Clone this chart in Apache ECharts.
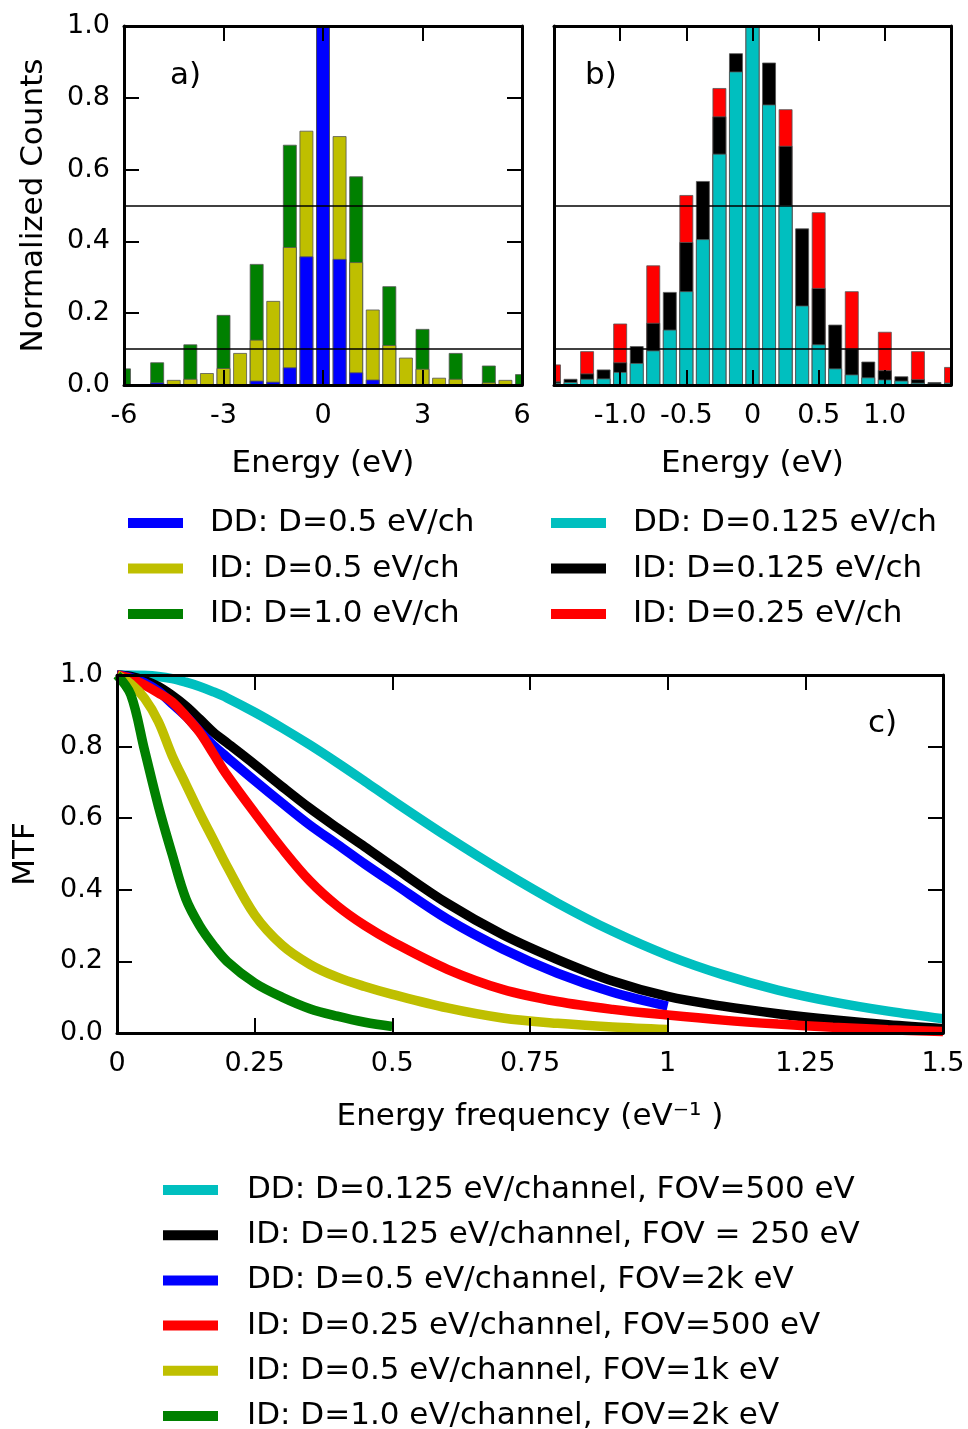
<!DOCTYPE html>
<html>
<head>
<meta charset="utf-8">
<title>Energy histograms and MTF</title>
<script src="https://cdn.jsdelivr.net/npm/echarts@6/dist/echarts.min.js"></script>
</head>
<body style="margin:0;background:#fff">
<div id="main" style="width:968px;height:1429px;"></div>
<script type="text/javascript">
    // panel a) bins, 0.5 eV and 1.0 eV
    var energyA = [-6, -5.5, -5, -4.5, -4, -3.5, -3, -2.5, -2, -1.5, -1, -0.5, 0, 0.5, 1, 1.5, 2, 2.5, 3, 3.5, 4, 4.5, 5, 5.5, 6];
    var energyA1 = [-6, -5, -4, -3, -2, -1, 0, 1, 2, 3, 4, 5, 6];
    var ddA05 = [0, 0, 0.006, 0, 0, 0, 0, 0, 0.011, 0.008, 0.048, 0.357, 1.0, 0.35, 0.034, 0.014, 0, 0, 0, 0, 0, 0, 0, 0, 0];
    var idA05 = [0, 0, 0, 0.013, 0.016, 0.032, 0.046, 0.088, 0.125, 0.233, 0.383, 0.707, 1.0, 0.692, 0.341, 0.209, 0.110, 0.075, 0.044, 0.019, 0.016, 0, 0.006, 0.013, 0];
    var idA10 = [0.045, 0.062, 0.112, 0.194, 0.336, 0.668, 1.0, 0.58, 0.274, 0.155, 0.088, 0.053, 0.029];

    // panel b) bins, 0.125 eV and 0.25 eV
    var energyB = [-1.5, -1.375, -1.25, -1.125, -1, -0.875, -0.75, -0.625, -0.5, -0.375, -0.25, -0.125, 0, 0.125, 0.25, 0.375, 0.5, 0.625, 0.75, 0.875, 1, 1.125, 1.25, 1.375, 1.5];
    var energyB25 = [-1.5, -1.25, -1, -0.75, -0.5, -0.25, 0, 0.25, 0.5, 0.75, 1, 1.25, 1.5];
    var ddB0125 = [0.005, 0.007, 0.016, 0.017, 0.035, 0.06, 0.095, 0.153, 0.26, 0.405, 0.643, 0.872, 1.0, 0.78, 0.5, 0.22, 0.112, 0.045, 0.028, 0.02, 0.014, 0.011, 0.005, 0.003, 0.005];
    var idB0125 = [0.009, 0.016, 0.031, 0.042, 0.062, 0.107, 0.172, 0.258, 0.397, 0.567, 0.747, 0.923, 1.0, 0.897, 0.665, 0.435, 0.269, 0.167, 0.1, 0.064, 0.04, 0.023, 0.015, 0.007, 0.005];
    var idB025 = [0.056, 0.093, 0.17, 0.332, 0.528, 0.826, 1.0, 0.767, 0.48, 0.26, 0.147, 0.093, 0.049];

    // reference levels drawn across a) and b)
    var levels = [0.5, 0.1];

    // panel c) MTF curves, shorter curves stop earlier on the same frequency list
    var freqC = [0, 0.025, 0.05, 0.075, 0.1, 0.125, 0.15, 0.175, 0.2, 0.25, 0.3, 0.35, 0.4, 0.45, 0.5, 0.6, 0.7, 0.8, 0.9, 1.0, 1.1, 1.2, 1.3, 1.4, 1.5];
    var mtfDD0125 = [1, 1, 0.999, 0.996, 0.99, 0.98, 0.968, 0.953, 0.936, 0.896, 0.852, 0.805, 0.755, 0.703, 0.65, 0.548, 0.452, 0.363, 0.284, 0.217, 0.163, 0.12, 0.087, 0.061, 0.04];
    var mtfID0125 = [1, 0.996, 0.985, 0.968, 0.943, 0.913, 0.877, 0.84, 0.81, 0.75, 0.688, 0.628, 0.573, 0.52, 0.466, 0.362, 0.275, 0.205, 0.145, 0.102, 0.075, 0.054, 0.037, 0.023, 0.012];
    var mtfDD05 = [1, 0.993, 0.978, 0.955, 0.92, 0.885, 0.843, 0.803, 0.77, 0.705, 0.642, 0.581, 0.527, 0.472, 0.42, 0.318, 0.235, 0.167, 0.114, 0.075];
    var mtfID025 = [1, 0.99, 0.972, 0.95, 0.925, 0.885, 0.84, 0.78, 0.72, 0.615, 0.515, 0.425, 0.355, 0.3, 0.255, 0.178, 0.122, 0.088, 0.066, 0.05, 0.036, 0.025, 0.016, 0.009, 0.004];
    var mtfID05 = [1, 0.975, 0.935, 0.87, 0.775, 0.695, 0.615, 0.54, 0.465, 0.33, 0.245, 0.192, 0.156, 0.13, 0.108, 0.07, 0.042, 0.027, 0.017, 0.01];
    var mtfID10 = [1, 0.945, 0.79, 0.635, 0.5, 0.375, 0.3, 0.245, 0.2, 0.14, 0.1, 0.068, 0.047, 0.03, 0.018];

    var FONT = 'DejaVu Sans';
    var BAR_W = 13;

    function pairs(xs, ys) {
        return ys.map(function (y, i) { return [xs[i], y]; });
    }

    function xAx(grid, pos, min, max, step, opts) {
        opts = opts || {};
        return {
            type: 'value', gridIndex: grid, position: pos, min: min, max: max, interval: step,
            z: 10,
            axisLine: {show: true, onZero: false, lineStyle: {color: '#000', width: 3}},
            axisTick: {show: true, inside: true, length: 15, lineStyle: {color: '#000', width: 2}},
            axisLabel: {show: !!opts.label, margin: 17, color: '#000', fontFamily: FONT, fontSize: 27,
                formatter: opts.fmt},
            splitLine: {show: false},
            name: opts.name, nameLocation: 'middle', nameGap: opts.gap,
            nameTextStyle: {color: '#000', fontFamily: FONT, fontSize: 31}
        };
    }

    function yAx(grid, pos, opts) {
        opts = opts || {};
        return {
            type: 'value', gridIndex: grid, position: pos, min: 0, max: 1, interval: 0.2,
            z: 10,
            axisLine: {show: true, onZero: false, lineStyle: {color: '#000', width: 3}},
            axisTick: {show: opts.ticks !== false, inside: true, length: 15, lineStyle: {color: '#000', width: 2}},
            axisLabel: {show: !!opts.label, margin: 14, color: '#000', fontFamily: FONT, fontSize: 27,
                formatter: function (v) { return v.toFixed(1); }},
            splitLine: {show: false},
            name: opts.name, nameLocation: 'middle', nameGap: opts.gap,
            nameTextStyle: {color: '#000', fontFamily: FONT, fontSize: 31}
        };
    }

    // histogram bar, clipped to the plot frame so the edge bins show as halves
    function renderBar(params, api) {
        var v = api.value(1);
        if (!(v > 0)) return null;
        var top = api.coord([api.value(0), v]);
        var base = api.coord([api.value(0), 0]);
        var cs = params.coordSys;
        var rect = echarts.graphic.clipRectByRect(
            {x: top[0] - BAR_W / 2, y: top[1], width: BAR_W, height: base[1] - top[1]},
            {x: cs.x, y: cs.y, width: cs.width, height: cs.height}
        );
        return rect && {type: 'rect', shape: rect, style: api.style()};
    }

    function bars(name, color, grid, data, lines) {
        var s = {
            name: name, type: 'custom', renderItem: renderBar,
            xAxisIndex: grid * 2, yAxisIndex: grid * 2,
            encode: {x: 0, y: 1},
            data: data, color: color,
            itemStyle: {color: color, borderColor: '#555', borderWidth: 0.8},
            emphasis: {disabled: true}
        };
        if (lines) {
            s.markLine = {
                silent: true, symbol: 'none', label: {show: false},
                lineStyle: {color: '#000', width: 1.5, type: 'solid'},
                emphasis: {disabled: true},
                data: levels.map(function (l) { return {yAxis: l}; })
            };
        }
        return s;
    }

    function curve(name, color, ys) {
        return {
            name: name, type: 'line', xAxisIndex: 4, yAxisIndex: 4,
            data: pairs(freqC, ys), color: color,
            showSymbol: false, smooth: 0.35,
            lineStyle: {color: color, width: 9.5},
            emphasis: {disabled: true}
        };
    }

    var legendText = {color: '#000', fontFamily: FONT, fontSize: 31, lineHeight: 36};

    function legend(left, top, gap, pad, names) {
        return {
            left: left, top: top, height: 300, orient: 'vertical', padding: 0, itemGap: gap, icon: 'rect',
            itemWidth: 55, itemHeight: 10, itemStyle: {borderWidth: 0},
            textStyle: Object.assign({padding: [0, 0, 0, pad]}, legendText),
            selectedMode: false, data: names
        };
    }

    var chart = echarts.init(document.getElementById('main'));

    var option = {
        animation: false,
        backgroundColor: '#fff',
        grid: [
            {left: 124, top: 26, width: 398, height: 359},
            {left: 554, top: 26, width: 397, height: 359},
            {left: 117, top: 675, width: 826, height: 358}
        ],
        xAxis: [
            xAx(0, 'bottom', -6, 6, 3, {label: true, name: 'Energy (eV)', gap: 63}),
            xAx(0, 'top', -6, 6, 3),
            xAx(1, 'bottom', -1.5, 1.5, 0.5, {label: true, name: 'Energy (eV)', gap: 63,
                fmt: function (v) { return Math.abs(v) > 1.2 ? '' : (v === 0 ? '0' : v.toFixed(1)); }}),
            xAx(1, 'top', -1.5, 1.5, 0.5),
            xAx(2, 'bottom', 0, 1.5, 0.25, {label: true, name: 'Energy frequency (eV\u207B\u00B9 )', gap: 68}),
            xAx(2, 'top', 0, 1.5, 0.25)
        ],
        yAxis: [
            yAx(0, 'left', {label: true, name: 'Normalized Counts', gap: 75}),
            yAx(0, 'right'),
            yAx(1, 'left', {ticks: false}),
            yAx(1, 'right', {ticks: false}),
            yAx(2, 'left', {label: true, name: 'MTF', gap: 76}),
            yAx(2, 'right')
        ],
        legend: [
            legend(128, 505, 9.5, 22, ['DD: D=0.5 eV/ch', 'ID: D=0.5 eV/ch', 'ID: D=1.0 eV/ch']),
            legend(551, 505, 9.5, 22, ['DD: D=0.125 eV/ch', 'ID: D=0.125 eV/ch', 'ID: D=0.25 eV/ch']),
            legend(163, 1172, 9.2, 24, ['DD: D=0.125 eV/channel, FOV=500 eV', 'ID: D=0.125 eV/channel, FOV = 250 eV',
                'DD: D=0.5 eV/channel, FOV=2k eV', 'ID: D=0.25 eV/channel, FOV=500 eV',
                'ID: D=0.5 eV/channel, FOV=1k eV', 'ID: D=1.0 eV/channel, FOV=2k eV'])
        ],
        graphic: [
            {type: 'text', left: 170, top: 60, style: {text: 'a)', fontFamily: FONT, fontSize: 31, fill: '#000'}},
            {type: 'text', left: 585, top: 60, style: {text: 'b)', fontFamily: FONT, fontSize: 31, fill: '#000'}},
            {type: 'text', left: 868, top: 708, style: {text: 'c)', fontFamily: FONT, fontSize: 31, fill: '#000'}}
        ],
        series: [
            // panel a: widest bins at the back
            bars('ID: D=1.0 eV/ch', '#008000', 0, pairs(energyA1, idA10)),
            bars('ID: D=0.5 eV/ch', '#bfbf00', 0, pairs(energyA, idA05)),
            bars('DD: D=0.5 eV/ch', '#0000ff', 0, pairs(energyA, ddA05), true),
            // panel b
            bars('ID: D=0.25 eV/ch', '#ff0000', 1, pairs(energyB25, idB025)),
            bars('ID: D=0.125 eV/ch', '#000000', 1, pairs(energyB, idB0125)),
            bars('DD: D=0.125 eV/ch', '#00bfbf', 1, pairs(energyB, ddB0125), true),
            // panel c
            curve('DD: D=0.125 eV/channel, FOV=500 eV', '#00bfbf', mtfDD0125),
            curve('ID: D=0.125 eV/channel, FOV = 250 eV', '#000000', mtfID0125),
            curve('DD: D=0.5 eV/channel, FOV=2k eV', '#0000ff', mtfDD05),
            curve('ID: D=0.25 eV/channel, FOV=500 eV', '#ff0000', mtfID025),
            curve('ID: D=0.5 eV/channel, FOV=1k eV', '#bfbf00', mtfID05),
            curve('ID: D=1.0 eV/channel, FOV=2k eV', '#008000', mtfID10)
        ]
    };

    chart.setOption(option);
</script>
</body>
</html>
